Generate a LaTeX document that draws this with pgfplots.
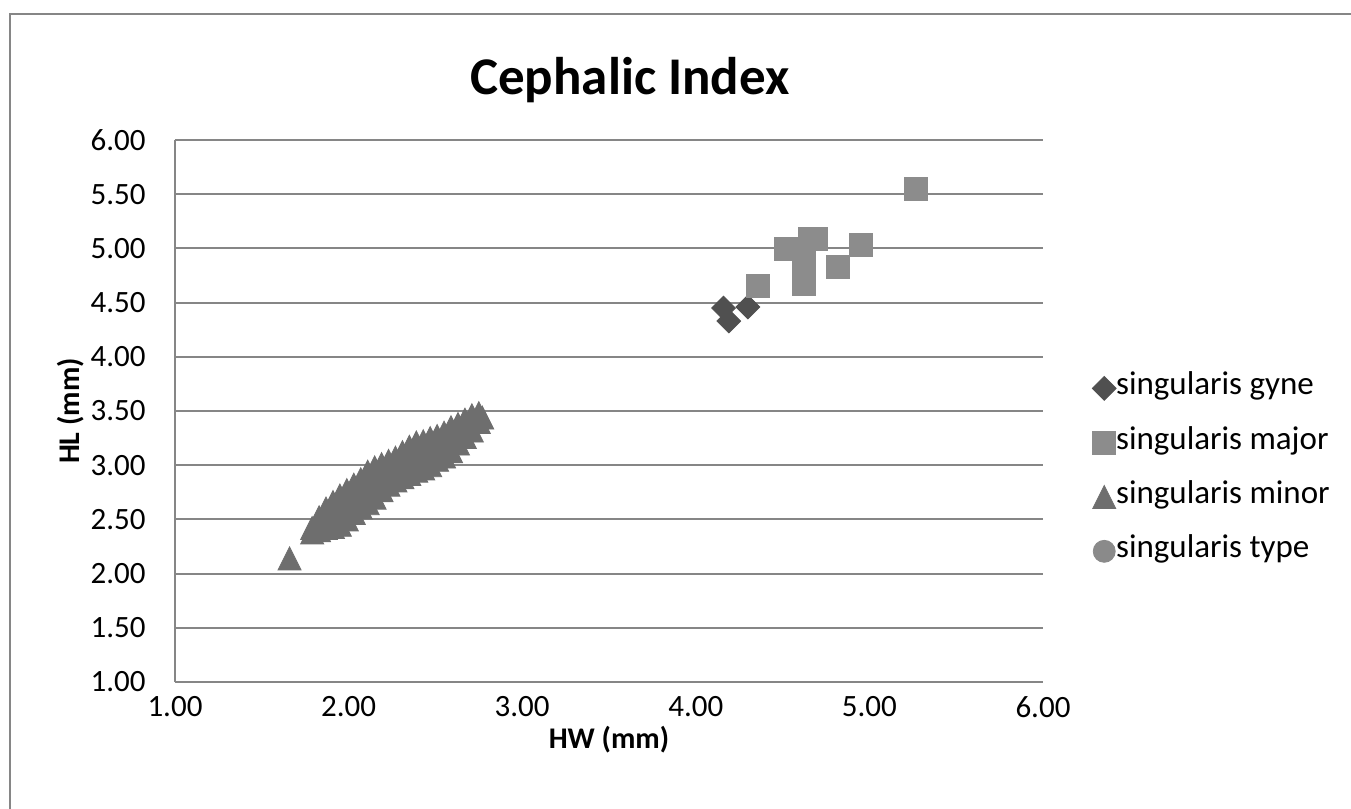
\documentclass[border=0pt]{standalone}
\usepackage{pgfplots}
\pgfplotsset{compat=1.18}
\usepackage{fontspec}
\setmainfont{Carlito}
\definecolor{gridgray}{HTML}{868686}
\definecolor{gynec}{HTML}{505050}
\definecolor{majorc}{HTML}{8C8C8C}
\definecolor{minorc}{HTML}{6E6E6E}
\definecolor{typec}{HTML}{8A8A8A}

\pgfplotstableread{
x y
4.16 4.45
4.19 4.33
4.30 4.46
}\gyne

\pgfplotstableread{
x y
4.36 4.65
4.52 5.00
4.66 5.09
4.69 5.09
4.62 4.88
4.62 4.67
4.82 4.83
4.95 5.03
5.27 5.55
}\major

\pgfplotstableread{
x y
1.66 2.14
1.79 2.38
1.79 2.42
1.83 2.40
1.83 2.46
1.83 2.52
1.87 2.42
1.87 2.51
1.87 2.60
1.91 2.43
1.91 2.55
1.91 2.66
1.95 2.45
1.95 2.58
1.95 2.72
1.99 2.50
1.99 2.63
1.99 2.77
2.03 2.56
2.03 2.69
2.03 2.82
2.07 2.61
2.07 2.74
2.07 2.87
2.11 2.65
2.11 2.80
2.11 2.94
2.15 2.70
2.15 2.84
2.15 2.98
2.19 2.77
2.19 2.89
2.19 3.01
2.23 2.82
2.23 2.93
2.23 3.04
2.27 2.86
2.27 2.96
2.27 3.07
2.31 2.89
2.31 3.00
2.31 3.12
2.35 2.92
2.35 3.04
2.35 3.17
2.39 2.95
2.39 3.08
2.39 3.21
2.43 2.97
2.43 3.10
2.43 3.22
2.47 3.00
2.47 3.12
2.47 3.25
2.51 3.05
2.51 3.16
2.51 3.27
2.55 3.08
2.55 3.19
2.55 3.30
2.59 3.13
2.59 3.24
2.59 3.35
2.63 3.20
2.63 3.29
2.63 3.38
2.67 3.26
2.67 3.34
2.67 3.42
2.71 3.32
2.71 3.46
2.75 3.40
2.75 3.48
2.77 3.44
}\minor

\pgfplotstableread{
x y
4.62 4.78
}\typedata

\begin{document}
\begin{tikzpicture}
\path[use as bounding box] (-87.5pt,-63.5pt) rectangle (588pt,341pt);
\fill[white] (-87.5pt,-63.5pt) rectangle (588pt,341pt);
\draw[color=gridgray, line width=1pt] (-82.5pt,-80pt) -- (-82.5pt,334pt) -- (600pt,334pt);
\begin{axis}[
  at={(0pt,0pt)}, anchor=south west,
  scale only axis, width=434pt, height=271pt,
  xmin=1, xmax=6, ymin=1, ymax=6,
  xtick={1,2,3,4,5,6},
  ytick={1,1.5,2,2.5,3,3.5,4,4.5,5,5.5,6},
  /pgf/number format/assume math mode=true,
  /pgf/number format/.cd, fixed, fixed zerofill, precision=2, /pgfplots/.cd,
  axis lines=left,
  axis line style={-, draw=gridgray, line width=1pt},
  major tick length=0pt,
  tick style={draw=none},
  ymajorgrids,
  grid style={draw=gridgray, line width=1pt},
  ticklabel style={font=\fontsize{15.5}{18}\selectfont},
  yticklabel style={anchor=east, inner sep=0pt, xshift=-14.5pt},
  xticklabel style={anchor=north, inner sep=0pt, yshift=-7pt},
  title={Cephalic Index},
  title style={font=\bfseries\fontsize{26.5}{30}\selectfont, at={(0.524,1.0609)}, anchor=base},
  xlabel={HW (mm)},
  xlabel style={font=\bfseries\fontsize{15}{18}\selectfont, at={(0.5,-0.1236)}, anchor=base},
  ylabel={HL (mm)},
  ylabel style={font=\bfseries\fontsize{15}{18}\selectfont, at={(-0.10945,0.5)}, anchor=base},
  legend style={at={(1.0495,0.5747)}, anchor=north west, draw=none, fill=none,
    font=\fontsize{16.5}{19}\selectfont, row sep=13.65pt, column sep=0pt,
    nodes={inner sep=0pt, text height=10pt, text depth=3.5pt}},
  legend cell align=left,
  legend image code/.code={\draw[#1] plot coordinates {(0pt,0pt)};},
]
\addplot[only marks, color=typec, mark=*, mark size=5.5pt, forget plot] table {\typedata};
\addplot[only marks, color=gynec, mark=square*, mark size=4.2pt, mark options={rotate=45}] table {\gyne};
\addlegendentry{singularis gyne}
\addplot[only marks, color=majorc, mark=square*, mark size=5.75pt] table {\major};
\addlegendentry{singularis major}
\addplot[only marks, color=minorc, mark=triangle*, mark size=6.64pt, mark options={yshift=-1.92pt, yscale=1.155}] table {\minor};
\addlegendentry{singularis minor}
\addlegendimage{only marks, color=typec, mark=*, mark size=5.5pt}
\addlegendentry{singularis type}
\end{axis}
\end{tikzpicture}
\end{document}
